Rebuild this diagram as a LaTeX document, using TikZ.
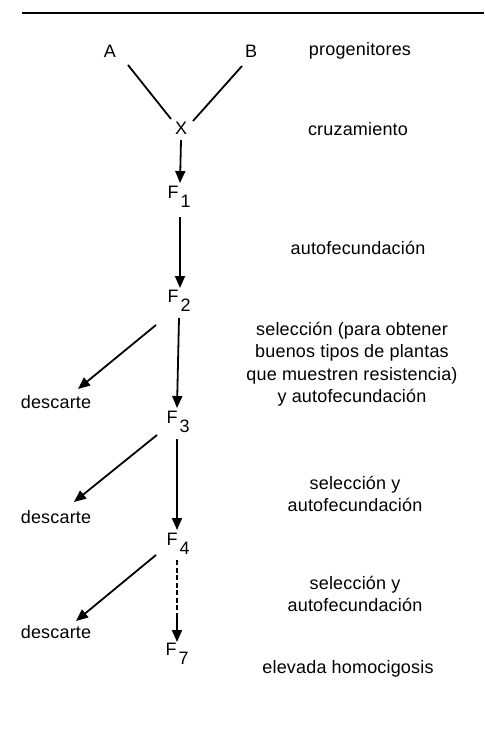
\documentclass[tikz,border=0pt]{standalone}
\usepackage{fontspec}
\setmainfont{Liberation Sans}[LetterSpace=1]
\usetikzlibrary{arrows.meta}
\tikzset{
  txt/.style={font=\fontsize{18}{22.5}\selectfont, inner sep=0pt, align=center},
  gen/.style={font=\fontsize{18}{22}\selectfont, inner sep=0pt},
  link/.style={line width=1.8pt},
  arr/.style={line width=1.8pt, -{Triangle[width=10pt,length=12pt]}},
  dsh/.style={line width=1.8pt, dash pattern=on 5pt off 2.5pt}
}
\newcommand{\gsub}[1]{F\rlap{\kern2pt\raisebox{-9pt}{#1}}}
\begin{document}
\begin{tikzpicture}[x=1pt,y=-1pt]
\useasboundingbox (0,0) rectangle (484,738);
\coordinate (r1) at (22,13);
\coordinate (r2) at (484,13);
\draw[line width=1.8pt] (r1) -- (r2);

\node[gen] (A) at (110,51) {A};
\node[gen] (B) at (251,51) {B};
\node[gen] (X) at (181,128) {X};
\node[gen] (F1) at (173,197) {\gsub{1}};
\node[gen] (F2) at (173,301) {\gsub{2}};
\node[gen] (F3) at (172,422) {\gsub{3}};
\node[gen] (F4) at (172,544) {\gsub{4}};
\node[gen] (F7) at (171,654) {\gsub{7}};
\node[gen] (D1) at (56,402) {descarte};
\node[gen] (D2) at (56,517) {descarte};
\node[gen] (D3) at (56,632) {descarte};
\coordinate (m) at (177,613);

\node[txt] (t1) at (360,51) {progenitores};
\node[txt] (t2) at (358,129) {cruzamiento};
\node[txt] (t3) at (358,248) {autofecundación};
\node[txt] (t4) at (352,364) {selección (para obtener\\buenos tipos de plantas\\que muestren resistencia)\\y autofecundación};
\node[txt] (t5) at (355,494) {selección y\\autofecundación};
\node[txt] (t6) at (355,594) {selección y\\autofecundación};
\node[txt] (t7) at (348,669) {elevada homocigosis};

\draw[link] ([shift={(18,14)}]A.center) -- ([shift={(-10,-9)}]X.center);
\draw[link] ([shift={(-9,15)}]B.center) -- ([shift={(12,-7)}]X.center);
\draw[arr] ([shift={(0,12)}]X.center) -- ([shift={(7,-14)}]F1.center);
\draw[arr] ([shift={(7,20)}]F1.center) -- ([shift={(7,-13)}]F2.center);
\draw[arr] ([shift={(6,17)}]F2.center) -- ([shift={(5,-14)}]F3.center);
\draw[arr] ([shift={(5,17)}]F3.center) -- ([shift={(5,-14)}]F4.center);
\draw[dsh] ([shift={(5,16)}]F4.center) -- (m);
\draw[arr] (m) -- ([shift={(6,-12)}]F7.center);
\draw[arr] ([shift={(-17,24)}]F2.center) -- ([shift={(22,-13)}]D1.center);
\draw[arr] ([shift={(-15,13)}]F3.center) -- ([shift={(18,-15)}]D2.center);
\draw[arr] ([shift={(-16,11)}]F4.center) -- ([shift={(20,-11)}]D3.center);
\end{tikzpicture}
\end{document}
